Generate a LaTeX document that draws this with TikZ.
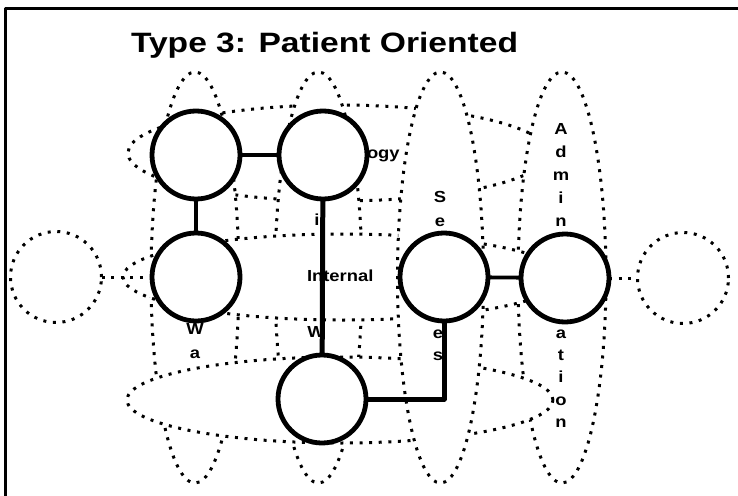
\documentclass[tikz,border=0pt]{standalone}
\usepackage{fontspec}
\setmainfont{Liberation Sans}
\newfontfamily\widesans{Liberation Sans}[FakeStretch=1.2]
\newfontfamily\labelsans{Liberation Sans}[FakeStretch=1.15]
\usetikzlibrary{shapes.geometric}
\definecolor{ink}{HTML}{000000}

\begin{document}
\begin{tikzpicture}[
  x=1pt,
  y=-1pt,
  line join=round,
  every node/.style={
    inner sep=0pt,
    outer sep=0pt,
    text=ink,
  },
  dots/.style={
    draw=ink,
    line width=3pt,
    dash pattern=on 3pt off 6.6pt,
  },
  band/.style={
    ellipse,
    dots,
    fill=white,
  },
  colband/.style={
    band,
    minimum width=88pt,
    minimum height=411pt,
  },
  unit/.style={
    circle,
    draw=ink,
    fill=white,
    line width=4.8pt,
    minimum size=88pt,
  },
  ghost/.style={
    circle,
    dots,
    minimum size=91pt,
  },
  link/.style={
    draw=ink,
    line width=3.8pt,
  },
  trunk/.style={
    draw=ink,
    line width=5pt,
  },
  dotlink/.style={
    dots,
  },
  tag/.style={
    font=\labelsans\bfseries\fontsize{16}{23}\selectfont,
    align=center,
  },
]
\useasboundingbox (0,0) rectangle (738,495);

% --- frame ---
\draw[ink, line width=3pt] (742,8.5) -| (5.5,499);

% --- bands (stacking order gives the weave) ---
\node[band, minimum width=420pt, minimum height=96pt] (row1) at (338,153) {};
\node[colband] (col1) at (195,277.5) {};
\node[colband, minimum width=87pt] (col2) at (318.5,277.5) {};
\node[colband] (col4) at (562,277.5) {};
\node[band, minimum width=440pt, minimum height=86pt] (row2) at (343,277) {};
\node[band, minimum width=426pt, minimum height=86pt] (row3) at (340,400) {};
\node[colband, minimum width=86pt] (col3) at (440.5,277.5) {};

% --- title and labels ---
\node[anchor=base west, font=\widesans\bfseries\fontsize{28}{30}\selectfont]
  (title) at (131,52.5) {Type 3: Patient Oriented};

\node[tag, anchor=base west] (lbltech) at (367,158) {ogy};
\node[tag, anchor=base] (lbli) at (317,225) {i};
\node[tag, anchor=base west] (lblint) at (307,281.5) {Internal};
\node[tag, anchor=base] (lblw) at (316,337) {W};
\node[tag, anchor=north, font=\labelsans\bfseries\fontsize{16}{24}\selectfont]
  (lblwa) at (195,323.5) {W\\a};
\node[tag, anchor=north, font=\labelsans\bfseries\fontsize{16}{24}\selectfont]
  (lblse) at (440,191) {S\\e};
\node[tag, anchor=north, font=\labelsans\bfseries\fontsize{16}{22}\selectfont]
  (lbles) at (438,329.5) {e\\s};
\node[tag, anchor=north] (lbladm) at (561,123.5) {A\\d\\m\\i\\n};
\node[tag, anchor=north, font=\labelsans\bfseries\fontsize{16}{22.3}\selectfont]
  (lblat) at (561,329.5) {a\\t\\i\\o\\n};

% --- units ---
\node[unit] (n11) at (196,155) {};
\node[unit] (n12) at (323,155) {};
\node[unit] (n21) at (196,277) {};
\node[unit] (n32) at (322,399) {};
\node[unit] (n23) at (444,277) {};
\node[unit] (n24) at (565,278) {};

\node[ghost] (outw) at (56,277) {};
\node[ghost] (oute) at (683,278) {};

% --- links ---
\draw[link] (n11) -- (n12);
\draw[link] (n11) -- (n21);
\draw[link] (n23) -- (n24);
\draw[trunk] (n12) -- (n32);
\draw[trunk] (n23) |- (n32);

\draw[dotlink] (outw) -- (n21);
\draw[dotlink] (n24) -- (oute);

\end{tikzpicture}
\end{document}
